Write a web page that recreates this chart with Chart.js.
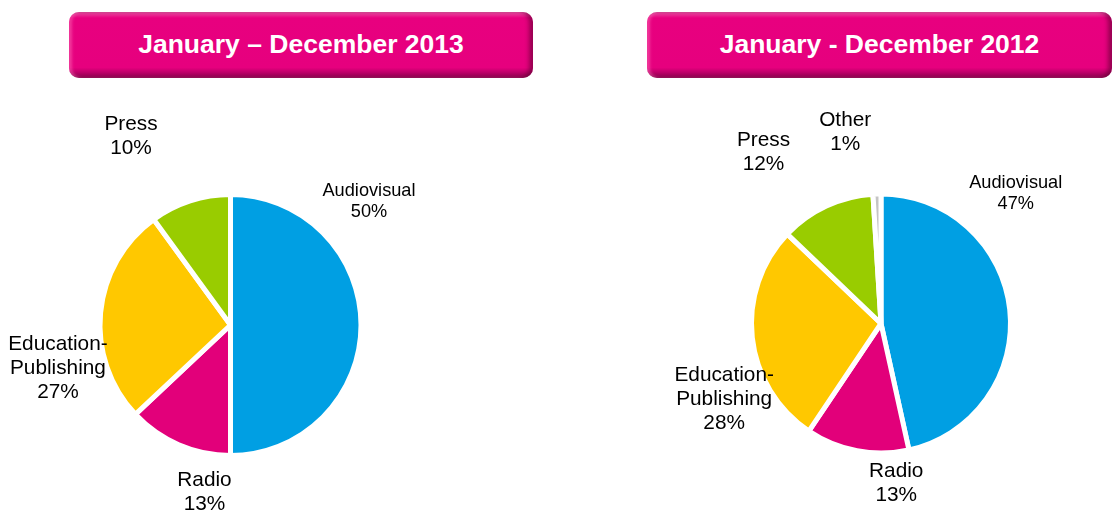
<!DOCTYPE html>
<html>
<head>
<meta charset="utf-8">
<script src="https://cdn.jsdelivr.net/npm/chart.js@4/dist/chart.umd.min.js"></script>
<style>
html,body{margin:0;padding:0;background:#fff;width:1112px;height:522px;overflow:hidden;}
body{position:relative;}
canvas{position:absolute;top:0;}
.title{position:absolute;top:12px;height:66px;box-sizing:border-box;padding-bottom:2px;border-radius:10px;color:#fff;
 font:bold 26.5px "Liberation Sans",Arial,sans-serif;display:flex;align-items:center;justify-content:center;
 background:linear-gradient(to bottom,#F553AC 0%,#E8007F 9%,#E6007E 84%,#B00062 94%,#8E004E 100%);
 box-shadow: inset -4px 0 4px rgba(90,0,45,0.55), inset 3px 0 3px rgba(255,120,190,0.45);}
</style>
</head>
<body>
<div class="title" id="t1" style="left:69px;width:464px;"></div>
<div class="title" id="t2" style="left:647px;width:465px;"></div>
<canvas id="c1" width="556" height="522" style="left:0px"></canvas>
<canvas id="c2" width="556" height="522" style="left:556px"></canvas>
<script>
// ---- data ----
const title2013 = 'January \u2013 December 2013';
const title2012 = 'January - December 2012';
const categories2013 = ['Audiovisual', 'Radio', 'Education-Publishing', 'Press'];
const values2013 = [50, 13, 27, 10];
const categories2012 = ['Audiovisual', 'Radio', 'Education-Publishing', 'Press', 'Other'];
const values2012 = [47, 13, 28, 12, 1];

// ---- styling / layout ----
const sliceColors = ['#009FE3', '#E2007A', '#FFC800', '#99CC00', '#C4C4C4'];
// label anchor offsets in units of the pie radius, relative to pie centre
const labelPlace2013 = [[1.082, -0.973], [-0.203, 1.297], [-1.348, 0.332], [-0.777, -1.484]];
const labelPlace2012 = [[1.061, -1.035], [0.12, 1.251], [-1.235, 0.588], [-0.925, -1.357], [-0.282, -1.514]];
const labelSizes2013 = [18.2, 20.8, 20.8, 20.8];
const labelSizes2012 = [18.2, 20.8, 20.8, 20.8, 20.8];

document.getElementById('t1').textContent = title2013;
document.getElementById('t2').textContent = title2012;

const labelPlugin = {
  id: 'sliceLabels',
  afterDatasetsDraw(chart, args, opts) {
    const ctx = chart.ctx;
    const meta = chart.getDatasetMeta(0);
    const ds = chart.data.datasets[0];
    const bw = ds.borderWidth || 0;
    meta.data.forEach((arc, i) => {
      const p = arc.getProps(['x', 'y', 'outerRadius'], true);
      const R = p.outerRadius - bw / 2;
      const f = opts.place[i];
      const cx = p.x + f[0] * R, cy = p.y + f[1] * R;
      const lines = chart.data.labels[i].split(/(?<=-)/).concat([ds.data[i] + '%']);
      const fs = opts.sizes[i], lh = fs * 1.16;
      ctx.save();
      ctx.font = fs + 'px "Liberation Sans", Arial, sans-serif';
      ctx.fillStyle = '#000';
      ctx.textAlign = 'center';
      ctx.textBaseline = 'middle';
      lines.forEach((t, k) => ctx.fillText(t, cx, cy + 1 + (k - (lines.length - 1) / 2) * lh));
      ctx.restore();
    });
  }
};

function makeChart(id, labels, values, place, sizes, cx, cy, radius) {
  const canvas = document.getElementById(id);
  const W = canvas.width, H = canvas.height, half = 150;
  return new Chart(canvas, {
    type: 'pie',
    data: {
      labels: labels,
      datasets: [{
        data: values,
        backgroundColor: sliceColors.slice(0, values.length),
        borderColor: '#ffffff',
        borderWidth: 5,
        hoverOffset: 0
      }]
    },
    options: {
      responsive: false,
      animation: false,
      events: [],
      rotation: 0,
      radius: radius,
      layout: { padding: { left: cx - half, right: W - cx - half, top: cy - half, bottom: H - cy - half } },
      plugins: {
        legend: { display: false },
        tooltip: { enabled: false },
        sliceLabels: { place: place, sizes: sizes }
      }
    },
    plugins: [labelPlugin]
  });
}

makeChart('c1', categories2013, values2013, labelPlace2013, labelSizes2013, 230.5, 325, 130.5);
makeChart('c2', categories2012, values2012, labelPlace2012, labelSizes2012, 325, 323.5, 129.5);
</script>
</body>
</html>
